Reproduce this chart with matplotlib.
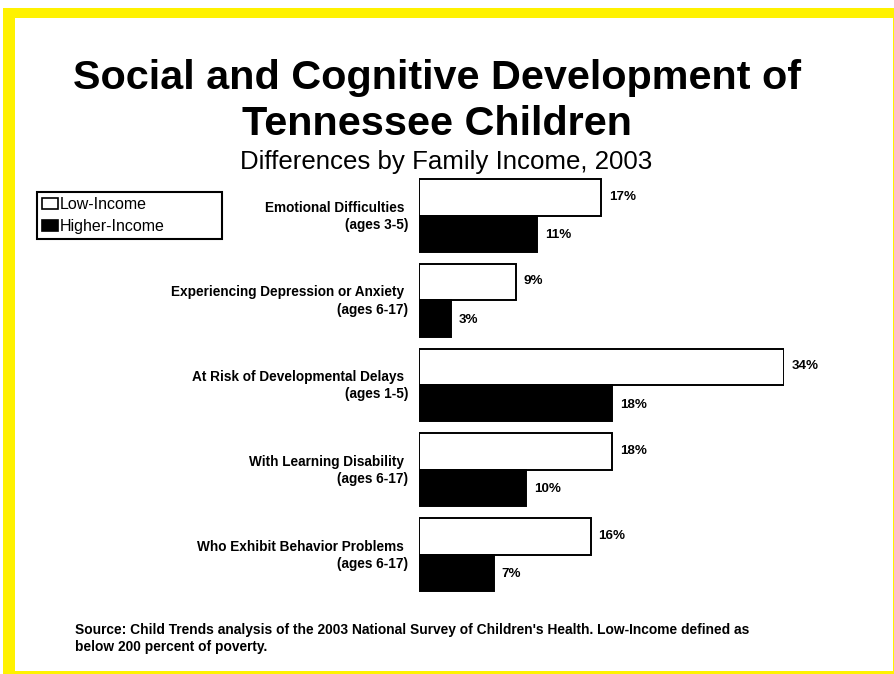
import numpy as np
import matplotlib
matplotlib.use('Agg')
import matplotlib.pyplot as plt
from matplotlib.patches import Rectangle, Patch

# данные: доля детей по категориям, %
categories = ['Emotional Difficulties', 'Experiencing Depression or Anxiety',
              'At Risk of Developmental Delays', 'With Learning Disability',
              'Who Exhibit Behavior Problems']
ages = ['(ages 3-5)', '(ages 6-17)', '(ages 1-5)', '(ages 6-17)', '(ages 6-17)']
low_income = [17, 9, 34, 18, 16]
higher_income = [11, 3, 18, 10, 7]
series_names = ['Low-Income', 'Higher-Income']

W, H = 895, 674
plt.rcParams['font.family'] = ['Liberation Sans', 'DejaVu Sans']

fig = plt.figure(figsize=(W / 100, H / 100), dpi=100)
fig.patch.set_facecolor('white')


def px(x, y):
    # пиксели (от левого верхнего угла) -> доли фигуры
    return x / W, 1 - y / H


# жёлтая рамка
yellow = '#FFF200'
for x0, y0, w, h in [(3, 8, 892, 10), (3, 8, 12, 666), (893, 8, 2, 666), (3, 671, 892, 3)]:
    fig.patches.append(Rectangle(px(x0, y0 + h), w / W, h / H, transform=fig.transFigure,
                                 facecolor=yellow, edgecolor='none', zorder=0))

# заголовки
fig.text(*px(437, 89), 'Social and Cognitive Development of', ha='center', va='baseline',
         fontsize=29.8, fontweight='bold')
fig.text(*px(437, 135), 'Tennessee Children', ha='center', va='baseline',
         fontsize=29.8, fontweight='bold')
fig.text(*px(446, 169), 'Differences by Family Income, 2003', ha='center', va='baseline',
         fontsize=18.6)

# область графика
ax = fig.add_axes([419 / W, 1 - 596.9 / H, 365 / W, 423.75 / H])
y = np.arange(len(categories))
h = 0.43
ax.barh(y - h / 2, low_income, height=h, color='white', edgecolor='black', linewidth=1.4)
ax.barh(y + h / 2, higher_income, height=h, color='black', edgecolor='black', linewidth=1.4)
ax.set_xlim(0, 34)
ax.set_ylim(len(categories) - 0.5, -0.5)
ax.axis('off')

for i in range(len(categories)):
    ax.annotate(f'{low_income[i]}%', (low_income[i], y[i] - h / 2), xytext=(5.5, 0.5),
                textcoords='offset points', ha='left', va='center',
                fontsize=9.6, fontweight='bold', annotation_clip=False)
    ax.annotate(f'{higher_income[i]}%', (higher_income[i], y[i] + h / 2), xytext=(5.5, -1),
                textcoords='offset points', ha='left', va='center',
                fontsize=9.6, fontweight='bold', annotation_clip=False)
    ax.annotate(categories[i] + ' \n' + ages[i], (0, y[i]), xytext=(-8, -0.5),
                textcoords='offset points', ha='right', va='center', multialignment='right',
                fontsize=9.8, fontweight='bold', linespacing=1.28, annotation_clip=False)

# легенда
handles = [Patch(facecolor='white', edgecolor='black', linewidth=1.2, label=series_names[0]),
           Patch(facecolor='black', edgecolor='black', linewidth=1.2, label=series_names[1])]
x0, y0 = px(37, 192)
leg = fig.legend(handles=handles, loc='upper left', bbox_to_anchor=(x0, y0 - 47 / H, 185 / W, 47 / H),
                 mode='expand', fancybox=False, edgecolor='black', framealpha=1,
                 fontsize=11.5, borderpad=0.3, handlelength=1.0, handleheight=0.7,
                 handletextpad=0.15, labelspacing=0.44, borderaxespad=0)
leg.get_frame().set_linewidth(1.5)

# источник
fig.text(*px(75, 634), "Source: Child Trends analysis of the 2003 National Survey of Children's Health. "
         "Low-Income defined as", ha='left', va='baseline', fontsize=9.9, fontweight='bold')
fig.text(*px(75, 651), 'below 200 percent of poverty.', ha='left', va='baseline',
         fontsize=9.9, fontweight='bold')

fig.savefig('out.png', dpi=100)
